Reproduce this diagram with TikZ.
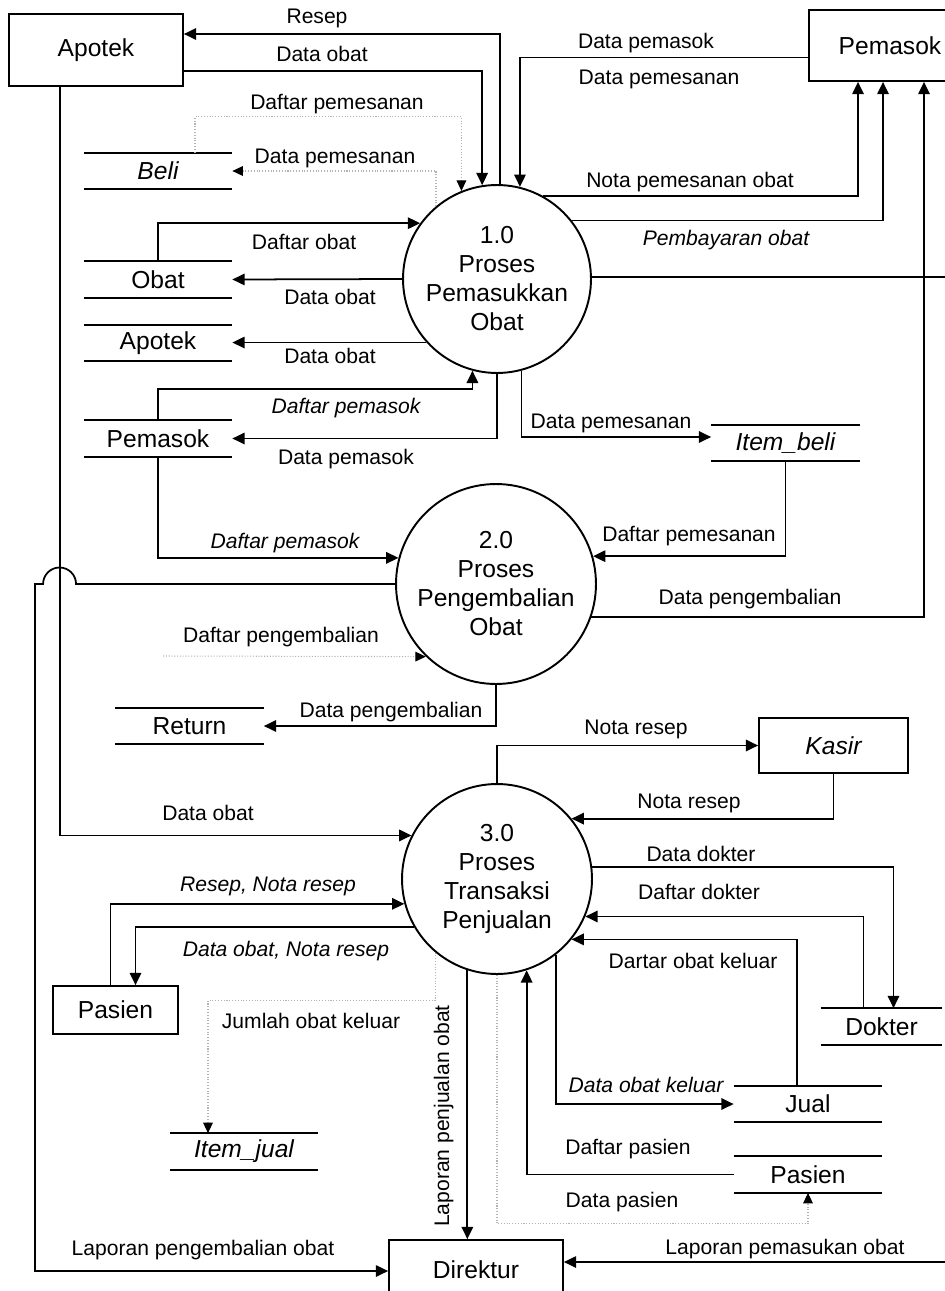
\documentclass[tikz,border=0pt]{standalone}
\usepackage{fontspec}
\setmainfont{Liberation Sans}
\usepackage{tikz}
\usetikzlibrary{calc,arrows.meta}

\tikzset{
  entitas/.style={draw, line width=1pt, inner sep=0pt, font=\fontsize{14}{16}\selectfont},
  proses/.style={draw, circle, line width=1.1pt, inner sep=0pt, align=center, font=\fontsize{14}{16.5}\selectfont},
  simpan/.style={inner sep=0pt, minimum width=2.96cm, minimum height=0.72cm, font=\fontsize{14}{16}\selectfont},
  alir/.style={line width=1pt, -{Triangle[length=7pt,width=6.5pt]}},
  samar/.style={line width=0.6pt, gray!60, densely dotted, -{Triangle[length=6pt,width=5.5pt,black]}},
  ket/.style={font=\fontsize{12}{14}\selectfont, inner sep=1pt, text height=1.6ex, text depth=0.3ex}
}

\begin{document}
\begin{tikzpicture}[x=0.02cm, y=-0.02cm]
  % 0. Ukuran halaman (pixel, y ke bawah)
  \useasboundingbox (0,0) rectangle (944,1291);
  \coordinate (kanan) at (948,0);
  \coordinate (kembali) at (163,656);

  % 1. Entitas luar
  \node[entitas, minimum width=3.48cm, minimum height=1.44cm] (apotek) at (96,50) {Apotek};
  \node[entitas, minimum width=3.24cm, minimum height=1.42cm] (pemasok) at (890,45.5) {Pemasok};
  \node[entitas, minimum width=2.98cm, minimum height=1.1cm] (kasir) at (833.5,745.5) {\itshape Kasir};
  \node[entitas, minimum width=2.5cm, minimum height=0.96cm] (pasien) at (115.5,1010) {Pasien};
  \node[entitas, minimum width=3.48cm, minimum height=1.2cm] (direktur) at (476,1270) {Direktur};

  % 2. Proses
  \node[proses, minimum size=3.76cm] (p1) at (497,279) {1.0\\Proses\\Pemasukkan\\Obat};
  \node[proses, minimum size=4cm] (p2) at (496,584) {2.0\\Proses\\Pengembalian\\Obat};
  \node[proses, minimum size=3.8cm] (p3) at (497,879) {3.0\\Proses\\Transaksi\\Penjualan};

  % 3. Data store (dua garis)
  \node[simpan] (beli) at (158,171) {\itshape Beli};
  \node[simpan] (obatS) at (158,279.5) {Obat};
  \node[simpan] (apotekS) at (158,343) {Apotek};
  \node[simpan] (pemasokS) at (158,438.5) {Pemasok};
  \node[simpan] (itembeli) at (785.5,443) {\itshape Item\_beli};
  \node[simpan] (returnS) at (189.5,726) {Return};
  \node[simpan, minimum width=2.42cm] (dokter) at (881.5,1026.5) {Dokter};
  \node[simpan] (jual) at (808,1104) {Jual};
  \node[simpan] (pasienS) at (808,1174.5) {Pasien};
  \node[simpan] (itemjual) at (244,1151.5) {\itshape Item\_jual};
  \foreach \s in {beli,obatS,apotekS,pemasokS,itembeli,returnS,dokter,jual,pasienS,itemjual}
    \draw[line width=1pt] (\s.north west) -- (\s.north east) (\s.south west) -- (\s.south east);

  % 4. Aliran proses 1.0
  \draw[alir] (p1.88) |- (apotek.east |- 0,34);
  \draw[alir] (apotek.east |- 0,71) -| (p1.99);
  \draw[samar] ($(beli.north)+(37,0)$) -- ++(0,-36) -| (p1.112);
  \draw[samar] (p1.130) |- (beli.east);
  \draw[alir] (obatS.north) |- (p1.144);
  \draw[alir] (p1.180) -- (obatS.east);
  \draw[alir] (p1.222) -- (p1.222 -| apotekS.east);
  \draw[alir] (pemasokS.north) -- ++(0,-31) -| (p1.255);
  \draw[alir] (p1.270) |- (pemasokS.east);
  \draw[alir] (p1.285) |- ($(itembeli.west)+(0,-6)$);
  \draw[alir] ($(pemasok.west)+(0,12)$) -| (p1.76);
  \draw[alir] (p1.61) -| ($(pemasok.south)+(-32,0)$);
  \draw[alir] (p1.38) -| ($(pemasok.south)+(-7,0)$);
  \draw[alir] (p1.1) -- (p1.1 -| kanan) |- ($(direktur.east)+(0,-8)$);

  % 5. Aliran proses 2.0
  \draw[alir] (pemasokS.south) |- (p2.165);
  \draw[alir] (itembeli.south) |- (p2.16);
  \draw[alir] (p2.341) -| ($(pemasok.south)+(34,0)$);
  \draw[alir] (p2.180) -- ++(-319,0) arc[start angle=0, end angle=180, radius=0.33cm]
    -- ++(-8,0) |- ($(direktur.west)+(0,1)$);
  \draw[samar] (kembali) -- (p2.226);
  \draw[alir] (p2.270) |- (returnS.east);

  % 6. Aliran proses 3.0
  \draw[alir] ($(apotek.south)+(-36,0)$) |- (p3.153);
  \draw[alir] (p3.90) |- (kasir.west);
  \draw[alir] (kasir.south) |- (p3.39);
  \draw[alir] (p3.7) -| ($(dokter.north)+(12,0)$);
  \draw[alir] ($(dokter.north)+(-18,0)$) |- (p3.337);
  \draw[alir] ($(jual.north)+(-11,0)$) |- (p3.321);
  \draw[alir] (p3.308) |- (jual.west);
  \draw[alir] (pasienS.west) -| (p3.288);
  \draw[samar] (p3.270) -- ++(0,249) -| (pasienS.south);
  \draw[alir] (p3.252) -- (p3.252 |- direktur.north);
  \draw[alir] ($(pasien.north)+(-5,0)$) |- (p3.195);
  \draw[alir] (p3.210) -| ($(pasien.north)+(20,0)$);
  \draw[samar] (p3.230) -- ++(0,48) -| ($(itemjual.north)+(-36,0)$);

  % 7. Keterangan aliran
  \foreach \x/\y/\teks [count=\i] in {
      317/17/Resep, 322/55/Data obat, 337/103/Daftar pemesanan, 335/157/Data pemesanan,
      304/243/Daftar obat, 330/298/Data obat, 330/357/Data obat,
      346/407/{\itshape Daftar pemasok}, 346/458/Data pemasok,
      646/42/Data pemasok, 659/78/Data pemesanan, 690/181/Nota pemesanan obat,
      726/239/{\itshape Pembayaran obat}, 611/422/Data pemesanan,
      285/542/{\itshape Daftar pemasok}, 689/535/Daftar pemesanan,
      750/598/Data pengembalian, 281/636/Daftar pengembalian, 391/711/Data pengembalian,
      208/814/Data obat, 636/728/Nota resep, 689/802/Nota resep,
      701/855/Data dokter, 699/893/Daftar dokter, 693/962/Dartar obat keluar,
      646/1086/{\itshape Data obat keluar}, 628/1148/Daftar pasien, 622/1201/Data pasien,
      785/1248/Laporan pemasukan obat, 203/1249/Laporan pengembalian obat,
      268/885/{\itshape Resep, Nota resep}, 286/950/{\itshape Data obat, Nota resep},
      311/1022/Jumlah obat keluar}
    \node[ket] (ket\i) at (\x,\y) {\teks};
  \node[ket, rotate=90] (lapjual) at (443,1116) {Laporan penjualan obat};
\end{tikzpicture}
\end{document}
